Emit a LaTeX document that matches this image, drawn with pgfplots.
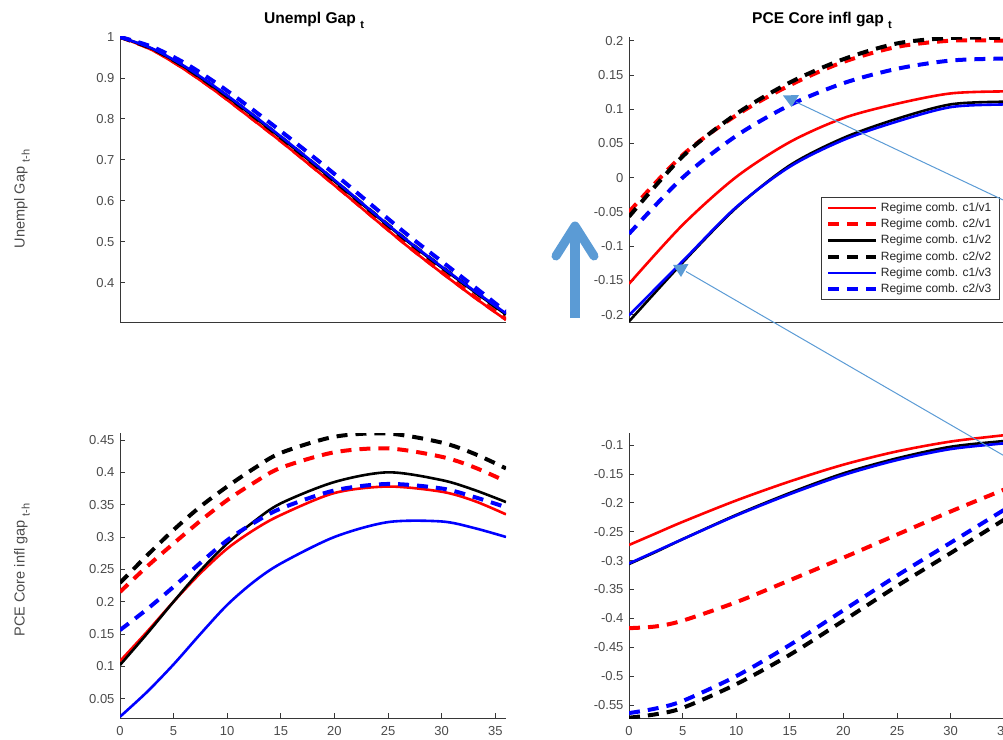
\documentclass[border=0pt]{standalone}
\usepackage{fontspec}
\setmainfont{Liberation Sans}
\usepackage{pgfplots}
\usepackage{pgfplotstable}
\pgfplotsset{compat=1.18}

\definecolor{axgray}{RGB}{55,55,55}
\definecolor{txgray}{RGB}{75,75,75}
\definecolor{annblue}{RGB}{91,155,213}

% lowered subscript with its own size
\newcommand{\lowsub}[2][11]{\raisebox{-5pt}{\fontsize{#1}{#1}\selectfont #2}}

% columns: horizon h, then c1/v1, c2/v1, c1/v2, c2/v2, c1/v3, c2/v3
\pgfplotstableread{
h   a       b       c       d       e       f
0   1.000   1.000   1.000   1.000   1.000   1.000
3   0.968   0.970   0.971   0.972   0.972   0.976
6   0.921   0.923   0.927   0.928   0.929   0.937
9   0.866   0.868   0.873   0.874   0.876   0.887
12  0.806   0.808   0.815   0.816   0.818   0.830
15  0.745   0.747   0.754   0.755   0.757   0.770
18  0.681   0.683   0.691   0.692   0.694   0.708
21  0.616   0.618   0.626   0.627   0.629   0.644
24  0.550   0.552   0.561   0.562   0.563   0.578
27  0.485   0.487   0.497   0.498   0.499   0.513
30  0.424   0.426   0.437   0.438   0.439   0.452
33  0.365   0.367   0.379   0.380   0.381   0.391
36  0.309   0.311   0.322   0.323   0.325   0.329
}\unempUnemp

\pgfplotstableread{
h   a       b       c       d       e       f
0   -0.155  -0.050  -0.210  -0.057  -0.201  -0.082
5   -0.069   0.033  -0.124   0.031  -0.122   0.000
10   0.001   0.091  -0.044   0.093  -0.043   0.061
15   0.052   0.135   0.018   0.139   0.016   0.106
20   0.087   0.169   0.058   0.173   0.055   0.138
25   0.108   0.191   0.086   0.196   0.082   0.159
30   0.123   0.200   0.107   0.204   0.103   0.171
35   0.126   0.200   0.111   0.204   0.107   0.174
36   0.125   0.199   0.111   0.203   0.107   0.174
}\unempInfl

\pgfplotstableread{
h    a       b       c       d       e       f
0    0.108   0.215   0.102   0.229   0.022   0.156
2.5  0.153   0.254   0.150   0.271   0.060   0.188
5    0.200   0.290   0.200   0.311   0.103   0.223
7.5  0.244   0.325   0.248   0.347   0.150   0.260
10   0.282   0.357   0.290   0.378   0.195   0.295
12.5 0.311   0.384   0.324   0.406   0.231   0.322
15   0.334   0.407   0.352   0.430   0.259   0.344
20   0.368   0.431   0.385   0.455   0.300   0.372
25   0.378   0.437   0.400   0.460   0.323   0.382
30   0.370   0.424   0.388   0.446   0.324   0.375
33   0.356   0.408   0.373   0.429   0.314   0.362
36   0.335   0.386   0.354   0.406   0.300   0.346
}\inflUnemp

\pgfplotstableread{
h   a       b       c       d       e       f
0   -0.273  -0.417  -0.306  -0.572  -0.305  -0.564
2.5 -0.253  -0.414  -0.285  -0.566  -0.284  -0.556
5   -0.233  -0.404  -0.263  -0.555  -0.263  -0.543
10  -0.196  -0.372  -0.221  -0.514  -0.222  -0.500
15  -0.163  -0.334  -0.183  -0.463  -0.185  -0.446
20  -0.134  -0.295  -0.149  -0.404  -0.152  -0.386
25  -0.111  -0.255  -0.123  -0.344  -0.126  -0.326
30  -0.094  -0.215  -0.103  -0.287  -0.107  -0.269
35  -0.083  -0.177  -0.093  -0.229  -0.097  -0.212
36  -0.081  -0.170  -0.091  -0.218  -0.095  -0.201
}\inflInfl

\pgfplotsset{
  panel/.style={
    scale only axis, width=386pt, height=285pt,
    xmin=0, xmax=36,
    axis x line*=bottom, axis y line*=left,
    tick align=inside, major tick length=5pt,
    axis line style={axgray, line width=0.9pt},
    every tick/.style={axgray, line width=0.8pt},
    tick label style={font=\fontsize{13}{15}\selectfont, text=txgray},
    /pgf/number format/assume math mode=true,
    scaled y ticks=false,
    yticklabel style={/pgf/number format/fixed, /pgf/number format/precision=2, xshift=-2pt},
    xticklabel style={yshift=-5pt},
  },
  solidc/.style={line width=2.6pt, smooth},
  dashc/.style={line width=4pt, smooth, dash pattern=on 11pt off 8pt},
  s1/.style={red, solidc},
  d1/.style={red, dashc},
  s2/.style={black, solidc},
  d2/.style={black, dashc},
  s3/.style={blue, solidc},
  d3/.style={blue, dashc},
}

\begin{document}
\begin{tikzpicture}

% Unemployment gap on unemployment gap
\begin{axis}[panel, at={(120pt,-322pt)}, anchor=south west,
  ymin=0.304, ymax=1.0, xtick=\empty,
  ytick={0.4,0.5,0.6,0.7,0.8,0.9,1}]
  \addplot[s1] table[x=h, y=a] {\unempUnemp};
  \addplot[d1] table[x=h, y=b] {\unempUnemp};
  \addplot[s2] table[x=h, y=c] {\unempUnemp};
  \addplot[d2] table[x=h, y=d] {\unempUnemp};
  \addplot[s3] table[x=h, y=e] {\unempUnemp};
  \addplot[d3] table[x=h, y=f] {\unempUnemp};
\end{axis}

% Core inflation gap on unemployment gap
\begin{axis}[panel, at={(629pt,-322pt)}, anchor=south west,
  ymin=-0.2108, ymax=0.2054, xtick=\empty,
  ytick={-0.2,-0.15,-0.1,-0.05,0,0.05,0.1,0.15,0.2},
  legend style={at={(rel axis cs:0.4974,0.4386)}, anchor=north west,
    draw=axgray, line width=0.8pt, fill=white,
    font=\fontsize{12}{13}\selectfont, text=black!85,
    inner ysep=2.5pt, inner xsep=5pt, row sep=0pt,
    nodes={inner ysep=1.4pt, inner xsep=2.5pt, text height=10.2pt, text depth=3.2pt}},
  legend cell align=left,
  legend image code/.code={\draw[#1] (0pt,0pt) -- (48pt,0pt);}]
  \addplot[s1] table[x=h, y=a] {\unempInfl};
  \addlegendentry{Regime comb. c1/v1}
  \addplot[d1] table[x=h, y=b] {\unempInfl};
  \addlegendentry{Regime comb. c2/v1}
  \addplot[s2] table[x=h, y=c] {\unempInfl};
  \addlegendentry{Regime comb. c1/v2}
  \addplot[d2] table[x=h, y=d] {\unempInfl};
  \addlegendentry{Regime comb. c2/v2}
  \addplot[s3] table[x=h, y=e] {\unempInfl};
  \addlegendentry{Regime comb. c1/v3}
  \addplot[d3] table[x=h, y=f] {\unempInfl};
  \addlegendentry{Regime comb. c2/v3}
\end{axis}

% Unemployment gap on core inflation gap
\begin{axis}[panel, at={(120pt,-718pt)}, anchor=south west,
  ymin=0.020, ymax=0.4608,
  xtick={0,5,...,35},
  ytick={0.05,0.1,0.15,0.2,0.25,0.3,0.35,0.4,0.45}]
  \addplot[s1] table[x=h, y=a] {\inflUnemp};
  \addplot[d1] table[x=h, y=b] {\inflUnemp};
  \addplot[s2] table[x=h, y=c] {\inflUnemp};
  \addplot[d2] table[x=h, y=d] {\inflUnemp};
  \addplot[s3] table[x=h, y=e] {\inflUnemp};
  \addplot[d3] table[x=h, y=f] {\inflUnemp};
\end{axis}

% Core inflation gap on core inflation gap
\begin{axis}[panel, at={(629pt,-718pt)}, anchor=south west,
  ymin=-0.5725, ymax=-0.0792,
  xtick={0,5,...,35},
  ytick={-0.55,-0.5,-0.45,-0.4,-0.35,-0.3,-0.25,-0.2,-0.15,-0.1}]
  \addplot[s1] table[x=h, y=a] {\inflInfl};
  \addplot[d1] table[x=h, y=b] {\inflInfl};
  \addplot[s2] table[x=h, y=c] {\inflInfl};
  \addplot[d2] table[x=h, y=d] {\inflInfl};
  \addplot[s3] table[x=h, y=e] {\inflInfl};
  \addplot[d3] table[x=h, y=f] {\inflInfl};
\end{axis}

% titles and axis labels
\node[font=\bfseries\fontsize{15.6}{17}\selectfont, anchor=base] at (314pt,-23pt) {Unempl Gap \lowsub{t}};
\node[font=\bfseries\fontsize{15.6}{17}\selectfont, anchor=base] at (822pt,-23pt) {PCE Core infl gap \lowsub{t}};
\node[rotate=90, text=txgray, font=\fontsize{14.5}{16}\selectfont] at (22pt,-199pt) {Unempl Gap \lowsub{t-h}};
\node[rotate=90, text=txgray, font=\fontsize{14.5}{16}\selectfont] at (22pt,-570pt) {PCE Core infl gap \lowsub{t-h}};

% upward arrow
\draw[annblue, line width=9.5pt] (575pt,-318pt) -- (575pt,-229pt);
\draw[annblue, line width=9pt, line cap=round, line join=round]
  (556pt,-256pt) -- (575pt,-226pt) -- (594pt,-256pt);

% pointer lines
\draw[annblue, line width=1pt] (1030pt,-212.7pt) -- (796pt,-102pt);
\fill[annblue] (783pt,-95.5pt) -- (799pt,-95pt) -- (791.5pt,-107pt) -- cycle;
\draw[annblue, line width=1pt] (1030pt,-470.8pt) -- (686pt,-271.5pt);
\fill[annblue] (673pt,-265pt) -- (688.5pt,-264pt) -- (681pt,-277pt) -- cycle;

\pgfresetboundingbox
\useasboundingbox (0pt,0pt) rectangle (1003pt,-739pt);
\end{tikzpicture}
\end{document}
